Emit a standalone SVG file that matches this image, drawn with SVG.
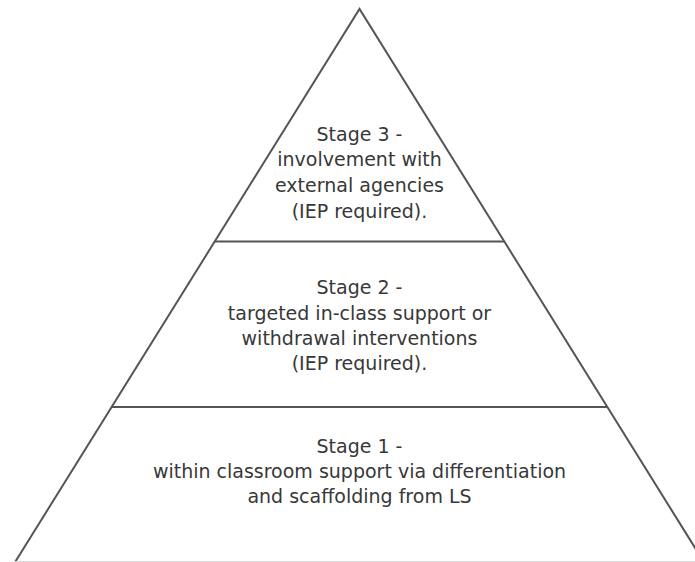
<svg xmlns="http://www.w3.org/2000/svg" width="695" height="562" viewBox="0 0 695 562">
<style>
.edge{fill:none;stroke:#555555;stroke-width:2;stroke-linejoin:miter}
.base{fill:none;stroke:#d8d8d8;stroke-width:1}
.lbl{font-family:"DejaVu Sans",Verdana,sans-serif;font-size:19px;fill:#383838;text-anchor:middle}
</style>
<rect width="695" height="562" fill="#ffffff"/>
<g id="pyramid">
<path class="edge" d="M14.5,563 L359.5,9 L704.5,563"/>
<line class="base" x1="14" y1="561.5" x2="695" y2="561.5"/>
<line class="edge" x1="214.7" y1="241.5" x2="504.3" y2="241.5"/>
<line class="edge" x1="111.5" y1="407" x2="607.5" y2="407"/>
</g>
<g id="stage3">
<text class="lbl" x="359.5" y="141">Stage 3 -</text>
<text class="lbl" x="359.5" y="166">involvement with</text>
<text class="lbl" x="359.5" y="192">external agencies</text>
<text class="lbl" x="359.5" y="218">(IEP required).</text>
</g>
<g id="stage2">
<text class="lbl" x="359.5" y="294">Stage 2 -</text>
<text class="lbl" x="359.5" y="320">targeted in-class support or</text>
<text class="lbl" x="359.5" y="345">withdrawal interventions</text>
<text class="lbl" x="359.5" y="370">(IEP required).</text>
</g>
<g id="stage1">
<text class="lbl" x="359.5" y="453">Stage 1 -</text>
<text class="lbl" x="359.5" y="478">within classroom support via differentiation</text>
<text class="lbl" x="359.5" y="503">and scaffolding from LS</text>
</g>
</svg>
